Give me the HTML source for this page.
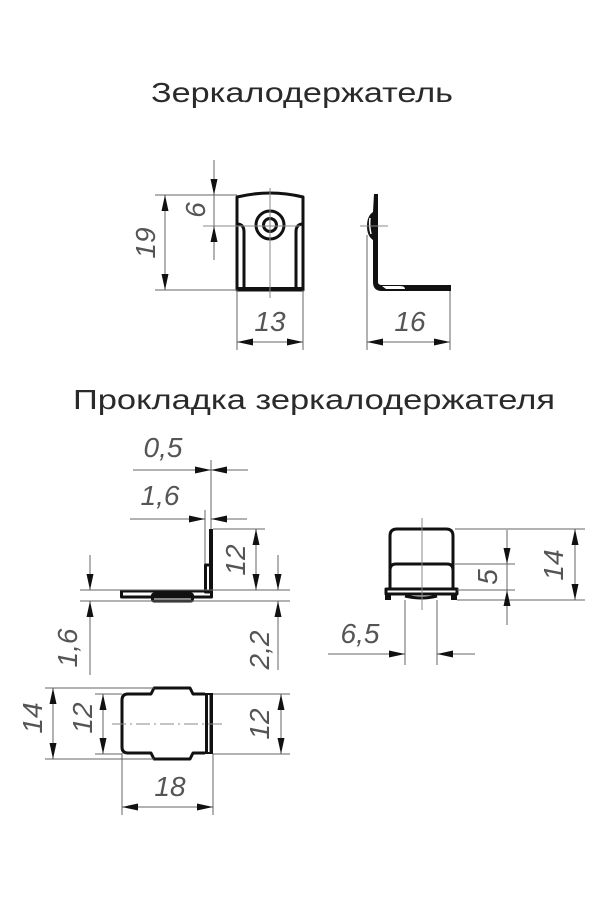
<!DOCTYPE html>
<html><head><meta charset="utf-8"><style>
html,body{margin:0;padding:0;background:#fff;width:600px;height:900px;overflow:hidden}
svg{display:block}
.t{font-family:"Liberation Sans","DejaVu Sans",sans-serif;fill:#2a2a2a}
.d{font-family:"Liberation Sans",sans-serif;font-style:italic;fill:#555;font-size:28px}
.th{stroke:#111;stroke-width:3;fill:none;stroke-linejoin:round}
.tn{stroke:#666;stroke-width:1;fill:none}
.cl{stroke:#888;stroke-width:1;fill:none}
</style></head><body>
<svg width="600" height="900" viewBox="0 0 600 900" xmlns="http://www.w3.org/2000/svg">
<defs>
<marker id="a" viewBox="0 0 16 7" refX="16" refY="3.5" markerWidth="16" markerHeight="7" orient="auto-start-reverse" markerUnits="userSpaceOnUse"><path d="M0,0 L16,3.5 L0,7 z" fill="#111"/></marker>
</defs>
<text class="t" x="151" y="102" font-size="28" textLength="302" lengthAdjust="spacingAndGlyphs">Зеркалодержатель</text>
<text class="t" x="73" y="409" font-size="28" textLength="482" lengthAdjust="spacingAndGlyphs">Прокладка зеркалодержателя</text>

<!-- front view -->
<path class="th" d="M237,290 L237,197 Q270,189 303,197 L303,290 Z"/>
<path class="th" stroke-width="1.8" d="M237,224 Q244,224 244,232 L244,288 M303,224 Q296,224 296,232 L296,288"/>
<line x1="237" y1="289" x2="303" y2="289" stroke="#111" stroke-width="4"/>
<circle cx="270" cy="225" r="14" class="th" stroke-width="2.2"/>
<circle cx="270" cy="225" r="6.5" class="th" stroke-width="2"/>
<line class="cl" x1="270" y1="188" x2="270" y2="298"/>
<line class="cl" x1="203" y1="226" x2="300" y2="226"/>
<line class="tn" x1="155" y1="195" x2="237" y2="195"/>
<line class="tn" x1="155" y1="290" x2="237" y2="290"/>
<line class="tn" x1="165" y1="195" x2="165" y2="290" marker-start="url(#a)" marker-end="url(#a)"/>
<line class="tn" x1="214" y1="160" x2="214" y2="195" marker-end="url(#a)"/>
<line class="tn" x1="214" y1="260" x2="214" y2="226" marker-end="url(#a)"/>
<line class="tn" x1="214" y1="195" x2="214" y2="226"/>
<text class="d" transform="translate(155,243) rotate(-90)" text-anchor="middle">19</text>
<text class="d" transform="translate(205,210) rotate(-90)" text-anchor="middle">6</text>
<line class="tn" x1="237" y1="290" x2="237" y2="350"/>
<line class="tn" x1="303" y1="290" x2="303" y2="350"/>
<line class="tn" x1="237" y1="342" x2="303" y2="342" marker-start="url(#a)" marker-end="url(#a)"/>
<text class="d" x="270" y="331" text-anchor="middle">13</text>

<!-- side view -->
<path d="M374,194 L378,194 L378,282 Q378,285 382,285 L451,285 L451,291 L382,291 Q373,291 373,282 L373,240 Q367,236 367,226 Q367,216 373,212 Z" fill="#111"/>
<path d="M382,286 L400,286 Q405,286 405,289 L386,289 Z" fill="#fff"/>
<path d="M370,218 Q369,226 371,234" stroke="#fff" stroke-width="1.5" fill="none"/>
<line class="cl" x1="360" y1="226" x2="388" y2="226"/>
<line class="tn" x1="367" y1="235" x2="367" y2="350"/>
<line class="tn" x1="450" y1="291" x2="450" y2="350"/>
<line class="tn" x1="367" y1="342" x2="450" y2="342" marker-start="url(#a)" marker-end="url(#a)"/>
<text class="d" x="410" y="331" text-anchor="middle">16</text>

<!-- прокладка side -->
<line class="tn" x1="211" y1="460" x2="211" y2="530"/>
<line class="tn" x1="205" y1="510" x2="205" y2="565"/>
<line class="tn" x1="133" y1="470" x2="211" y2="470" marker-end="url(#a)"/>
<line class="tn" x1="248" y1="470" x2="211" y2="470" marker-end="url(#a)"/>
<text class="d" x="163" y="457" text-anchor="middle">0,5</text>
<line class="tn" x1="130" y1="519" x2="205" y2="519" marker-end="url(#a)"/>
<line class="tn" x1="247" y1="519" x2="211" y2="519" marker-end="url(#a)"/>
<text class="d" x="160" y="505" text-anchor="middle">1,6</text>
<rect x="209" y="529" width="4" height="62" fill="#111"/>
<rect x="205.5" y="565" width="6" height="27" class="th" stroke-width="1.8"/>
<rect x="121.5" y="591" width="90" height="6" class="th" stroke-width="2"/>
<rect x="152.5" y="594" width="40" height="7" rx="1.5" class="th" stroke-width="1.8" fill="#fff"/>
<line class="tn" x1="213" y1="529" x2="265" y2="529"/>
<line class="tn" x1="80" y1="590" x2="290" y2="590"/>
<line class="tn" x1="80" y1="601" x2="290" y2="601"/>
<line class="tn" x1="256" y1="529" x2="256" y2="590" marker-start="url(#a)" marker-end="url(#a)"/>
<text class="d" transform="translate(245,560) rotate(-90)" text-anchor="middle">12</text>
<line class="tn" x1="278" y1="555" x2="278" y2="590" marker-end="url(#a)"/>
<line class="tn" x1="278" y1="670" x2="278" y2="601" marker-end="url(#a)"/>
<text class="d" transform="translate(269,650) rotate(-90)" text-anchor="middle">2,2</text>
<line class="tn" x1="90" y1="555" x2="90" y2="590" marker-end="url(#a)"/>
<line class="tn" x1="90" y1="675" x2="90" y2="601" marker-end="url(#a)"/>
<text class="d" transform="translate(77,648) rotate(-90)" text-anchor="middle">1,6</text>

<!-- прокладка front right -->
<path class="th" d="M390,590 L390,536 Q390,529 397,529 L446,529 Q453,529 453,536 L453,590"/>
<path class="th" stroke-width="2.2" d="M390,570 Q390,564 396,564 L447,564 Q453,564 453,570"/>
<rect x="386" y="589" width="71" height="5" class="th" stroke-width="2"/>
<path d="M385,594 L391,594 L391,600 L385,600 Z M451,594 L457,594 L457,600 L451,600 Z" fill="#111"/>
<path d="M405,596 Q422,600 437,596" class="th" stroke-width="1.5"/>
<line class="cl" x1="422" y1="518" x2="422" y2="610"/>
<line class="tn" x1="455" y1="529" x2="585" y2="529"/>
<line class="tn" x1="455" y1="564" x2="515" y2="564"/>
<line class="tn" x1="457" y1="590" x2="515" y2="590"/>
<line class="tn" x1="457" y1="600" x2="585" y2="600"/>
<line class="tn" x1="507" y1="530" x2="507" y2="564" marker-end="url(#a)"/>
<line class="tn" x1="507" y1="625" x2="507" y2="590" marker-end="url(#a)"/>
<line class="tn" x1="507" y1="564" x2="507" y2="590"/>
<text class="d" transform="translate(497,577) rotate(-90)" text-anchor="middle">5</text>
<line class="tn" x1="575" y1="529" x2="575" y2="600" marker-start="url(#a)" marker-end="url(#a)"/>
<text class="d" transform="translate(563,565) rotate(-90)" text-anchor="middle">14</text>
<line class="tn" x1="405" y1="600" x2="405" y2="665"/>
<line class="tn" x1="437" y1="600" x2="437" y2="665"/>
<line class="tn" x1="328" y1="654" x2="405" y2="654" marker-end="url(#a)"/>
<line class="tn" x1="475" y1="654" x2="437" y2="654" marker-end="url(#a)"/>
<text class="d" x="360" y="643" text-anchor="middle">6,5</text>

<!-- прокладка top -->
<path class="th" d="M205,694 L193,694 L190,688 L154,688 L151,694 L128,694 Q122,694 122,700 L122,747 Q122,753 128,753 L151,753 L154,759 L190,759 L193,753 L205,753"/>
<rect x="205" y="693" width="8" height="61" fill="#111"/>
<rect x="208" y="695" width="1.5" height="57" fill="#fff"/>
<line class="cl" x1="112" y1="724" x2="222" y2="724" stroke-dasharray="14,4,2,4"/>
<line class="tn" x1="45" y1="688" x2="154" y2="688"/>
<line class="tn" x1="45" y1="759" x2="154" y2="759"/>
<line class="tn" x1="95" y1="694" x2="122" y2="694"/>
<line class="tn" x1="95" y1="754" x2="122" y2="754"/>
<line class="tn" x1="213" y1="694" x2="290" y2="694"/>
<line class="tn" x1="213" y1="754" x2="290" y2="754"/>
<line class="tn" x1="53" y1="688" x2="53" y2="759" marker-start="url(#a)" marker-end="url(#a)"/>
<text class="d" transform="translate(42,718) rotate(-90)" text-anchor="middle">14</text>
<line class="tn" x1="103" y1="694" x2="103" y2="754" marker-start="url(#a)" marker-end="url(#a)"/>
<text class="d" transform="translate(92,718) rotate(-90)" text-anchor="middle">12</text>
<line class="tn" x1="281" y1="694" x2="281" y2="754" marker-start="url(#a)" marker-end="url(#a)"/>
<text class="d" transform="translate(269,724) rotate(-90)" text-anchor="middle">12</text>
<line class="tn" x1="122" y1="753" x2="122" y2="815"/>
<line class="tn" x1="213" y1="754" x2="213" y2="815"/>
<line class="tn" x1="122" y1="807" x2="213" y2="807" marker-start="url(#a)" marker-end="url(#a)"/>
<text class="d" x="170" y="796" text-anchor="middle">18</text>
</svg>
</body></html>
